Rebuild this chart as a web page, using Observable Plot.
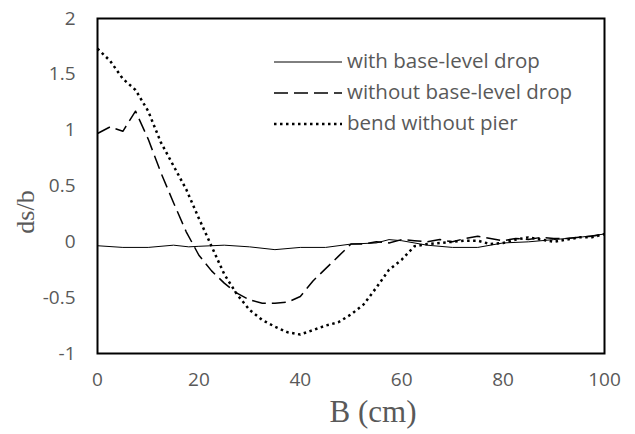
<!DOCTYPE html>
<html>
<head>
<meta charset="utf-8">
<script src="https://cdn.jsdelivr.net/npm/d3@7"></script>
<script src="https://cdn.jsdelivr.net/npm/@observablehq/plot@0.6"></script>
<style>
  html, body { margin: 0; padding: 0; background: #fff; }
  #chart { position: relative; width: 635px; height: 434px; }
</style>
</head>
<body>
<div id="chart"></div>
<script>
// Series names
const seriesNames = ["with base-level drop", "without base-level drop", "bend without pier"];

// with base-level drop (solid)
const xSolid = [0, 5, 10, 15, 18, 20, 25, 30, 35, 40, 45, 50, 55, 57.5, 60, 65, 70, 75, 80, 85, 90, 95, 100];
const ySolid = [-0.035, -0.05, -0.05, -0.03, -0.045, -0.04, -0.03, -0.045, -0.07, -0.05, -0.05, -0.02, -0.01, 0.02, 0.01, -0.03, -0.05, -0.05, -0.01, 0.0, 0.02, 0.04, 0.07];

// without base-level drop (dashed)
const xDashed = [0, 2.5, 5, 7.5, 10, 12.5, 15, 17.5, 20, 22.5, 25, 27.5, 30, 32.5, 35, 37.5, 40, 42.5, 45, 47.5, 50, 52.5, 55, 57.5, 60, 62.5, 65, 67.5, 70, 72.5, 75, 77.5, 80, 82.5, 85, 87.5, 90, 92.5, 95, 97.5, 100];
const yDashed = [0.97, 1.03, 0.99, 1.17, 0.92, 0.62, 0.35, 0.09, -0.12, -0.26, -0.37, -0.46, -0.52, -0.55, -0.55, -0.54, -0.49, -0.35, -0.24, -0.13, -0.02, -0.02, 0.0, -0.01, 0.02, 0.01, 0.0, 0.02, 0.0, 0.03, 0.05, 0.03, 0.01, 0.03, 0.02, 0.04, 0.03, 0.03, 0.04, 0.05, 0.07];

// bend without pier (dotted)
const xDotted = [0, 2.5, 5, 7.5, 10, 12.5, 15, 17.5, 20, 22.5, 25, 27.5, 30, 32.5, 35, 37.5, 40, 42.5, 45, 47.5, 50, 52.5, 55, 57.5, 60, 62.5, 65, 67.5, 70, 72.5, 75, 77.5, 80, 82.5, 85, 87.5, 90, 92.5, 95, 97.5, 100];
const yDotted = [1.73, 1.62, 1.46, 1.36, 1.17, 0.89, 0.68, 0.47, 0.21, -0.04, -0.29, -0.47, -0.61, -0.70, -0.76, -0.81, -0.83, -0.79, -0.75, -0.72, -0.65, -0.56, -0.41, -0.25, -0.16, -0.04, -0.02, -0.01, 0.0, 0.01, 0.01, -0.02, -0.01, 0.02, 0.04, 0.02, 0.0, 0.02, 0.04, 0.04, 0.07];

// Axis ticks
const xTicks = [0, 20, 40, 60, 80, 100];
const yTicks = [-1, -0.5, 0, 0.5, 1, 1.5, 2];
const xTitle = "B (cm)";
const yTitle = "ds/b";

const toRows = (xs, ys) => xs.map((x, i) => ({x, y: ys[i]}));
const solid = toRows(xSolid, ySolid);
const dashed = toRows(xDashed, yDashed);
const dotted = toRows(xDotted, yDotted);

const styles = [
  {stroke: "#000", strokeWidth: 1, strokeDasharray: null, strokeLinecap: "butt"},
  {stroke: "#000", strokeWidth: 1.5, strokeDasharray: "14,6", strokeLinecap: "butt"},
  {stroke: "#000", strokeWidth: 2.5, strokeDasharray: "2.5,3.5", strokeLinecap: "butt"}
];

const tickFont = "'Open Sans', 'Noto Sans', sans-serif";
const serif = "'Liberation Serif', 'Times New Roman', serif";
const gray = "#595959";

const plot = Plot.plot({
  width: 635,
  height: 434,
  marginLeft: 97,
  marginRight: 31,
  marginTop: 18,
  marginBottom: 81,
  style: {background: "#fff", fontFamily: tickFont},
  x: {domain: [0, 100]},
  y: {domain: [-1, 2]},
  marks: [
    Plot.line(solid, {x: "x", y: "y", ...styles[0]}),
    Plot.line(dashed, {x: "x", y: "y", ...styles[1]}),
    Plot.line(dotted, {x: "x", y: "y", ...styles[2]}),
    Plot.axisX({ticks: xTicks, tickSize: 0, tickPadding: 19, fontSize: 19, fill: gray, label: null, tickFormat: d => String(d)}),
    Plot.axisY({ticks: yTicks, tickSize: 0, tickPadding: 22, fontSize: 19, fill: gray, label: null, tickFormat: d => String(d)}),
    Plot.frame({stroke: "#000", strokeWidth: 2})
  ]
});

document.getElementById("chart").appendChild(plot);

// Titles and legend (layout drawn in SVG space)
const svg = d3.select(plot);
svg.append("text")
  .attr("x", 373).attr("y", 422)
  .attr("text-anchor", "middle")
  .attr("font-family", serif)
  .attr("font-size", 31)
  .attr("fill", gray)
  .text(xTitle);
svg.append("text")
  .attr("transform", "translate(34,212) rotate(-90)")
  .attr("text-anchor", "middle")
  .attr("font-family", serif)
  .attr("font-size", 26)
  .attr("fill", gray)
  .text(yTitle);

const legend = svg.append("g");
seriesNames.forEach((name, i) => {
  const y = 62 + i * 31;
  const s = styles[i];
  legend.append("line")
    .attr("x1", 274).attr("x2", 342).attr("y1", y).attr("y2", y)
    .attr("stroke", s.stroke)
    .attr("stroke-width", s.strokeWidth)
    .attr("stroke-dasharray", s.strokeDasharray)
    .attr("stroke-linecap", s.strokeLinecap);
  legend.append("text")
    .attr("x", 347).attr("y", y)
    .attr("dy", "0.28em")
    .attr("text-anchor", "start")
    .attr("font-family", tickFont)
    .attr("font-size", 20.5)
    .attr("fill", gray)
    .text(name);
});
</script>
</body>
</html>
